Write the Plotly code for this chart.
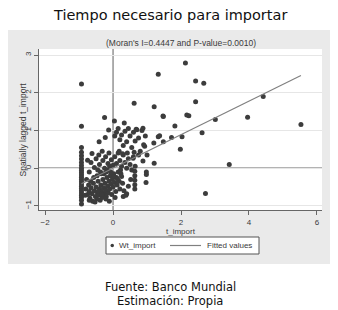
import plotly.graph_objects as go

title_text = "Tiempo necesario para importar"
subtitle_text = "(Moran's I=0.4447 and P-value=0.0010)"
footer_lines = ["Fuente: Banco Mundial", "Estimación: Propia"]
x_title = "t_import"
y_title = "Spatially lagged t_import"
series_names = ["Wt_import", "Fitted values"]
x_ticks = [-2, 0, 2, 4, 6]
y_ticks = [-1, 0, 1, 2, 3]
moran_i = 0.4447
fit_intercept = 0.0

# column of points at the minimum of t_import
col_x = [-0.93] * 24
col_y = [2.23, 1.11, 0.55, 0.42, 0.33, 0.24, 0.15, 0.07, 0.0, -0.06, -0.12, -0.18,
         -0.24, -0.30, -0.36, -0.42, -0.48, -0.54, -0.60, -0.66, -0.72, -0.78, -0.85, -0.95]

# dense lower cluster
blob_x = [-0.80, -0.75, -0.72, -0.70, -0.68, -0.65, -0.62, -0.60, -0.58, -0.55, -0.52, -0.50,
          -0.48, -0.46, -0.44, -0.42, -0.40, -0.38, -0.36, -0.34, -0.32, -0.30, -0.28, -0.26,
          -0.24, -0.22, -0.20, -0.18, -0.16, -0.14, -0.12, -0.10, -0.08, -0.06, -0.04, -0.02,
          0.00, 0.02, 0.05, 0.08, 0.10, 0.12, 0.15, 0.18, 0.20, 0.22, 0.25, 0.28, 0.32, 0.38,
          0.45, 0.52, -0.78, -0.66, -0.57, -0.47, -0.37, -0.27, -0.17, -0.07, 0.03, 0.13, 0.23,
          -0.82, -0.70, -0.53, -0.43, -0.33, -0.21, -0.11, 0.06, 0.30, 0.40]
blob_y = [-0.55, -0.70, -0.45, -0.62, -0.80, -0.52, -0.68, -0.88, -0.40, -0.60, -0.75, -0.50,
          -0.82, -0.65, -0.35, -0.72, -0.55, -0.85, -0.45, -0.62, -0.78, -0.30, -0.52, -0.68,
          -0.40, -0.58, -0.75, -0.25, -0.48, -0.65, -0.35, -0.55, -0.20, -0.42, -0.70, -0.30,
          -0.50, -0.15, -0.38, -0.62, -0.25, -0.45, -0.10, -0.35, -0.55, -0.05, -0.22, -0.40,
          -0.60, -0.72, -0.48, -0.30, -0.30, -0.35, -0.25, -0.20, -0.10, -0.15, -0.05, -0.10,
          -0.22, -0.28, -0.15, -0.72, -0.85, -0.90, -0.62, -0.70, -0.82, -0.88, -0.78, -0.75, -0.68]

# middle band
mid_x = [-0.75, -0.70, -0.65, -0.62, -0.55, -0.50, -0.45, -0.42, -0.41, -0.40, -0.35, -0.32,
         -0.30, -0.25, -0.23, -0.22, -0.20, -0.15, -0.12, -0.10, -0.05, 0.00, 0.05, 0.10,
         0.15, 0.20, 0.25, 0.30, 0.35, 0.40, 0.45, 0.50, 0.55, 0.59, 0.60, 0.65,
         0.64, 0.64, 0.64, 0.64, 0.64, 0.97, 0.98, 0.98, 0.88, 1.21, 0.93]
mid_y = [0.21, -0.10, 0.15, 0.39, 0.02, 0.25, -0.05, 0.35, 0.70, 0.10, -0.15, 0.45,
         0.20, 0.00, 0.81, 0.30, -0.10, 0.12, 0.40, 0.05, 0.22, 0.08, 0.30, 0.12,
         0.40, 0.20, 0.05, 0.35, 0.15, 0.00, 0.25, 0.10, -0.05, 0.26, 0.30, 0.05,
         -0.08, -0.20, -0.32, -0.44, -0.55, -0.38, -0.10, -0.17, 0.19, 0.13, 0.58]

# upper arc and scattered points
upper_x = [0.05, 0.10, 0.15, 0.20, 0.25, 0.30, 0.35, 0.40, 0.45, 0.50, 0.55, 0.60, 0.65, 0.70,
           0.75, 0.80, 0.85, 0.90, 0.95, 1.00, 0.18, 0.28, 0.42, 0.62, 0.75, 1.20, 1.33, 1.37,
           1.48, 1.72, 2.03, 1.82, 1.98, 2.62, 3.42, 2.72, 3.01, 2.17, 2.23, 1.48, 2.43, 2.43,
           2.67, 2.13, 1.33, 0.62, 1.21, -0.25, 0.04, 0.33, -0.13, 0.88, 0.68, 3.96, 4.42, 5.53,
           1.47]
upper_y = [0.85, 0.95, 1.05, 0.75, 0.88, 0.60, 0.98, 0.70, 1.05, 0.85, 0.55, 0.95, 0.72, 1.02,
           0.80, 0.45, 1.00, 0.62, 0.85, 0.35, 0.45, 0.38, 0.40, 0.42, 0.35, 0.67, 0.83, 0.86,
           0.70, 0.81, 0.83, 1.12, 0.50, 0.94, 0.10, -0.67, 1.29, 1.41, 1.39, 1.37, 1.76, 2.31,
           2.25, 2.79, 2.49, 1.72, 1.63, 1.34, 1.25, 1.20, 1.01, 1.06, 1.03, 1.35, 1.90, 1.16,
           1.38]

wt_x = col_x + blob_x + mid_x + upper_x
wt_y = col_y + blob_y + mid_y + upper_y

fit_x = [min(wt_x), max(wt_x)]
fit_y = [fit_intercept + moran_i * v for v in fit_x]

FONT = "Liberation Sans, Arial, sans-serif"
GOTHIC = "DejaVu Sans, sans-serif"
TXT = "#3a3a3a"
DOT = "#3c3c3c"
FITC = "#808080"

# page places the figure 8px from the top-left corner (body margin)
OFF = 8
W, H = 338 - OFF, 310 - OFF
# plot area in page pixels: x 39..322, y 49..210
L, R, T, B = 39 - OFF, 322 - OFF, 49 - OFF, 210 - OFF
pw, ph = R - L, B - T

def px_x(p):
    return (p - OFF - L) / pw

def px_y(p):
    return (B - (p - OFF)) / ph

fig = go.Figure()
fig.add_trace(go.Scatter(x=wt_x, y=wt_y, mode="markers", name=series_names[0],
                         marker=dict(color=DOT, size=5, line=dict(width=0))))
fig.add_trace(go.Scatter(x=fit_x, y=fit_y, mode="lines", name=series_names[1],
                         line=dict(color=FITC, width=1.2)))

# legend box (drawn as in the Stata graph)
leg_y = 245.5
shapes = [
    dict(type="rect", xref="paper", yref="paper", x0=px_x(7), x1=px_x(331),
         y0=px_y(264), y1=px_y(30), fillcolor="#eaeaea", line=dict(width=0), layer="below"),
    dict(type="rect", xref="paper", yref="paper", x0=0, x1=1, y0=0, y1=1,
         fillcolor="white", line=dict(width=0), layer="below"),
    dict(type="line", xref="x", yref="paper", x0=0, x1=0, y0=0, y1=1,
         line=dict(color="#9a9a9a", width=1.6), layer="below"),
    dict(type="line", xref="paper", yref="y", x0=0, x1=1, y0=0, y1=0,
         line=dict(color="#9a9a9a", width=1.6), layer="below"),
    dict(type="rect", xref="paper", yref="paper", x0=px_x(106), x1=px_x(259),
         y0=px_y(254), y1=px_y(237), fillcolor="white",
         line=dict(color="#555555", width=1), layer="above"),
    dict(type="circle", xref="paper", yref="paper", x0=px_x(110.5), x1=px_x(114),
         y0=px_y(leg_y + 1.75), y1=px_y(leg_y - 1.75), fillcolor=DOT,
         line=dict(width=0), layer="above"),
    dict(type="line", xref="paper", yref="paper", x0=px_x(170), x1=px_x(201),
         y0=px_y(leg_y), y1=px_y(leg_y), line=dict(color=FITC, width=1.2), layer="above"),
]

annotations = [
    dict(text=title_text, x=px_x(170), y=px_y(14.5), xref="paper", yref="paper",
         showarrow=False, font=dict(family=GOTHIC, size=14.5, color="#111111"),
         xanchor="center", yanchor="middle"),
    dict(text=subtitle_text, x=0.5, y=px_y(43), xref="paper", yref="paper",
         showarrow=False, font=dict(family=FONT, size=8.5, color=TXT),
         xanchor="center", yanchor="middle"),
    dict(text=x_title, x=0.5, y=px_y(231.5), xref="paper", yref="paper",
         showarrow=False, font=dict(family=FONT, size=8, color=TXT),
         xanchor="center", yanchor="middle"),
    dict(text=y_title, x=px_x(22), y=0.5, xref="paper", yref="paper", textangle=-90,
         showarrow=False, font=dict(family=FONT, size=8.5, color=TXT),
         xanchor="center", yanchor="middle"),
    dict(text=series_names[0], x=px_x(117), y=px_y(leg_y), xref="paper", yref="paper",
         showarrow=False, font=dict(family=FONT, size=8, color=TXT),
         xanchor="left", yanchor="middle"),
    dict(text=series_names[1], x=px_x(205), y=px_y(leg_y), xref="paper", yref="paper",
         showarrow=False, font=dict(family=FONT, size=8, color=TXT),
         xanchor="left", yanchor="middle"),
    dict(text=footer_lines[0], x=px_x(170), y=px_y(287), xref="paper", yref="paper",
         showarrow=False, font=dict(family=GOTHIC, size=11.5, color="#111111"),
         xanchor="center", yanchor="middle"),
    dict(text=footer_lines[1], x=px_x(170), y=px_y(301), xref="paper", yref="paper",
         showarrow=False, font=dict(family=GOTHIC, size=11.5, color="#111111"),
         xanchor="center", yanchor="middle"),
]

fig.update_layout(
    width=W, height=H,
    margin=dict(l=L, r=W - R, t=T, b=H - B, pad=0),
    paper_bgcolor="white", plot_bgcolor="white",
    shapes=shapes, annotations=annotations,
    showlegend=False,
    xaxis=dict(range=[-2.18, 6.15], tickvals=x_ticks, ticks="outside", ticklen=4,
               tickcolor="#666666", showline=True, linecolor="#666666", linewidth=1,
               showgrid=False, zeroline=False,
               tickfont=dict(family=FONT, size=8, color=TXT)),
    yaxis=dict(range=[-1.11, 3.16], tickvals=y_ticks, ticks="outside", ticklen=4,
               tickcolor="#666666", showline=True, linecolor="#666666", linewidth=1,
               showgrid=True, gridcolor="#e6e6e6", gridwidth=1, zeroline=False,
               tickangle=-90,
               tickfont=dict(family=FONT, size=8, color=TXT)),
)

fig.write_html("out.html")
